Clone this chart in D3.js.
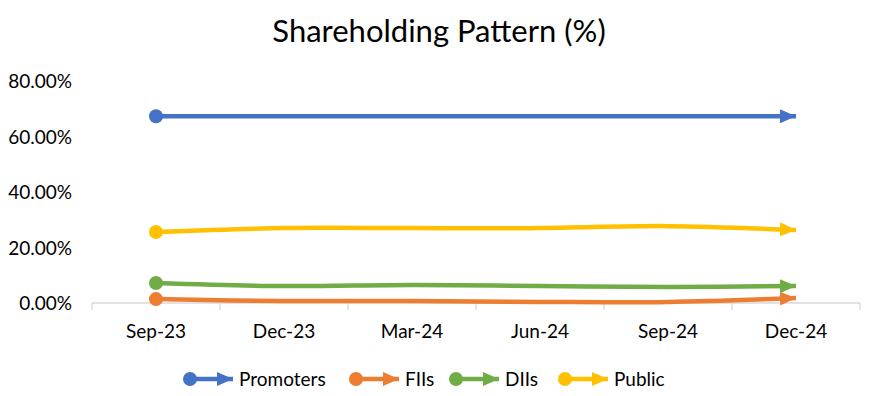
<!DOCTYPE html>
<html><head><meta charset="utf-8">
<script src="https://cdn.jsdelivr.net/npm/d3@7"></script>
<style>body{margin:0;background:#fff}svg{display:block;font-family:Lato,"Open Sans",sans-serif}</style>
</head><body><svg id="c" width="873" height="396"></svg>
<script>
const categories = ["Sep-23","Dec-23","Mar-24","Jun-24","Sep-24","Dec-24"];
const seriesNames = ["Promoters","FIIs","DIIs","Public"];
const promoters = [67.3,67.3,67.3,67.3,67.3,67.3];
const fiis = [1.4,0.7,0.7,0.4,0.4,1.8];
const diis = [7.2,6.1,6.5,6.1,5.8,6.1];
const publicVals = [25.6,27.0,27.0,27.0,27.7,26.3];
const yTicks = [0,20,40,60,80];
const colors = ["#4472C4","#ED7D31","#70AD47","#FFC000"];
const series = [promoters,fiis,diis,publicVals];

const svg = d3.select("#c");
const x = d3.scaleBand().domain(categories).range([92,860]);
const y = d3.scaleLinear().domain([0,80]).range([303,81]);

svg.append("text").attr("x",439).attr("y",42).attr("text-anchor","middle")
  .attr("font-size",31).attr("fill","#000").text("Shareholding Pattern (%)");

// y labels
svg.selectAll(".yl").data(yTicks).enter().append("text")
  .attr("x",72).attr("y",d=>y(d)+7).attr("text-anchor","end")
  .attr("font-size",19).attr("fill","#000").text(d=>d.toFixed(2)+"%");

// x axis
const xa = svg.append("g").attr("transform","translate(0,303)");
xa.append("line").attr("x1",92).attr("x2",860).attr("stroke","#d9d9d9").attr("stroke-width",1.3);
const bounds = categories.map(c=>x(c)).concat([860]);
xa.selectAll(".tk").data(bounds).enter().append("line")
  .attr("x1",d=>d).attr("x2",d=>d).attr("y1",0).attr("y2",7)
  .attr("stroke","#d9d9d9").attr("stroke-width",1.3);
xa.selectAll(".xl").data(categories).enter().append("text")
  .attr("x",d=>x(d)+x.bandwidth()/2).attr("y",35).attr("text-anchor","middle")
  .attr("font-size",19).attr("fill","#000").text(d=>d);

const defs = svg.append("defs");
colors.forEach((c,i)=>{
  defs.append("marker").attr("id","arr"+i).attr("markerUnits","userSpaceOnUse")
    .attr("viewBox","0 0 16 14").attr("refX",16).attr("refY",7)
    .attr("markerWidth",16).attr("markerHeight",14).attr("orient","auto")
    .append("path").attr("d","M0,0L16,7L0,14Z").attr("fill",c);
});

const line = d3.line().x((d,i)=>x(categories[i])+x.bandwidth()/2).y(d=>y(d)).curve(d3.curveCatmullRom);
series.forEach((s,i)=>{
  svg.append("path").attr("d",line(s)).attr("fill","none").attr("stroke",colors[i])
    .attr("stroke-width",4.5).attr("marker-end","url(#arr"+i+")");
  svg.append("circle").attr("cx",x(categories[0])+x.bandwidth()/2).attr("cy",y(s[0]))
    .attr("r",7).attr("fill",colors[i]);
});

// legend
const legX = [190,356,456,565];
const lg = svg.append("g");
seriesNames.forEach((n,i)=>{
  const cx = legX[i];
  lg.append("line").attr("x1",cx).attr("x2",cx+43).attr("y1",379).attr("y2",379)
    .attr("stroke",colors[i]).attr("stroke-width",4.5).attr("marker-end","url(#arr"+i+")");
  lg.append("circle").attr("cx",cx).attr("cy",379).attr("r",7).attr("fill",colors[i]);
  lg.append("text").attr("x",cx+49).attr("y",386).attr("font-size",19).attr("fill","#000").text(n);
});
</script></body></html>
